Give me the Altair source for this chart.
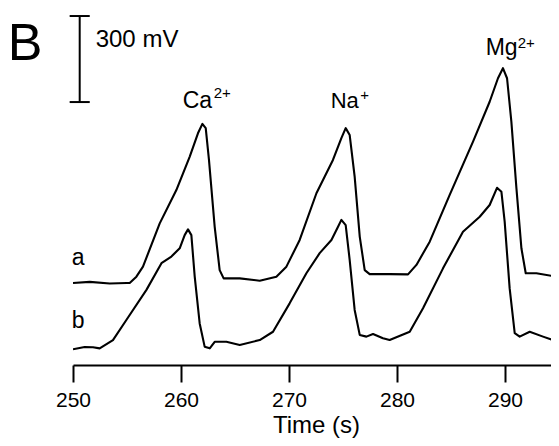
import altair as alt
import pandas as pd

# Trace a (upper) — time (s), signal (mV, arbitrary offset)
time_a = [250.00, 251.55, 253.40, 254.97, 255.25, 255.87, 256.48, 258.03, 259.57, 260.81, 261.57, 261.98,
          262.29, 262.59, 263.12, 263.58, 263.95, 265.44, 267.29, 268.83, 269.76, 270.99, 272.54, 274.07,
          274.85, 275.25, 275.62, 276.08, 276.55, 277.01, 277.47, 279.32, 281.02, 281.80, 283.03, 284.88,
          287.04, 288.58, 289.35, 289.81, 290.19, 290.59, 291.06, 291.52, 291.92, 292.91, 294.76]
mv_a = [286, 290, 284, 286, 286, 308, 343, 494, 610, 727, 808, 841,
        826, 715, 482, 331, 302, 302, 294, 308, 343, 436, 599, 715,
        791, 826, 802, 657, 448, 331, 317, 317, 316, 349, 430, 593,
        779, 918, 1000, 1035, 1000, 849, 616, 407, 320, 320, 308]

# Trace b (lower)
time_b = [250.00, 251.08, 251.85, 252.47, 253.70, 254.94, 256.80, 258.19, 259.11, 259.88, 260.34, 260.65,
          260.96, 261.27, 261.73, 262.19, 262.66, 263.12, 264.20, 265.44, 267.29, 268.52, 270.06, 271.61,
          272.84, 273.93, 274.54, 274.85, 275.25, 275.62, 276.08, 276.55, 277.17, 277.78, 278.70, 279.32,
          281.18, 282.41, 284.26, 286.11, 287.66, 288.58, 289.26, 289.67, 289.97, 290.43, 290.90, 291.36,
          292.29, 293.52, 294.91]
mv_b = [55, 63, 62, 58, 87, 157, 262, 355, 378, 407, 453, 473,
        453, 308, 145, 64, 58, 81, 81, 70, 87, 116, 215, 320,
        390, 436, 482, 506, 488, 366, 192, 105, 99, 108, 93, 87,
        116, 198, 337, 465, 517, 558, 618, 604, 500, 268, 111, 99,
        116, 99, 81]

# Axis
x_ticks = [250, 260, 270, 280, 290]

# Annotations
ann_text = ["B", "300 mV", "Ca", "2+", "Na", "+", "Mg", "2+", "a", "b"]
ann_t = [243.95, 252.1, 260.16, 263.03, 273.86, 276.6, 288.21, 291.18, 249.88, 249.88]
ann_mv = [1064, 1109, 895, 931, 896, 924, 1081, 1107, 349, 129]
ann_size = [52, 24, 23, 15, 22, 15, 23, 15, 23, 23]

# Scale bar (300 mV)
bar_t = 250.62
bar_lo = 917
bar_hi = 1217
cap_half = 0.93

FONT = "Liberation Sans"

df = pd.DataFrame({
    "t": time_a + time_b,
    "mv": mv_a + mv_b,
    "trace": ["a"] * len(time_a) + ["b"] * len(time_b),
})
ann = pd.DataFrame({"text": ann_text, "t": ann_t, "mv": ann_mv, "size": ann_size})
vbar = pd.DataFrame({"t": [bar_t], "lo": [bar_lo], "hi": [bar_hi]})
caps = pd.DataFrame({"t1": [bar_t - cap_half] * 2, "t2": [bar_t + cap_half] * 2, "mv": [bar_lo, bar_hi]})

xscale = alt.Scale(domain=[250, 294.26], nice=False, zero=False)
yscale = alt.Scale(domain=[0, 1245], nice=False, zero=False)

x_axis = alt.Axis(values=x_ticks, format="d", grid=False, domainColor="black", domainWidth=2,
                  tickColor="black", tickWidth=2, tickSize=17, labelFontSize=21,
                  labelColor="black", labelFont=FONT, labelPadding=7, labelFlush=False,
                  titleFontSize=24, titleFont=FONT, titleColor="black",
                  titleFontWeight="normal", titlePadding=3, titleX=243)

lines = alt.Chart(df).mark_line(color="black", strokeWidth=2.1, clip=True,
                                strokeJoin="round").encode(
    x=alt.X("t:Q", scale=xscale, title="Time (s)", axis=x_axis),
    y=alt.Y("mv:Q", scale=yscale, axis=None),
    detail="trace:N",
)

texts = alt.Chart(ann).mark_text(align="left", baseline="alphabetic", font=FONT, color="black").encode(
    x=alt.X("t:Q", scale=xscale, title="Time (s)"),
    y=alt.Y("mv:Q", scale=yscale, axis=None),
    text="text:N",
    size=alt.Size("size:Q", scale=None, legend=None),
)

bar = alt.Chart(vbar).mark_rule(color="black", strokeWidth=2).encode(
    x=alt.X("t:Q", scale=xscale, title="Time (s)"),
    y=alt.Y("lo:Q", scale=yscale, axis=None), y2="hi:Q")
capm = alt.Chart(caps).mark_rule(color="black", strokeWidth=2).encode(
    x=alt.X("t1:Q", scale=xscale, title="Time (s)"), x2="t2:Q",
    y=alt.Y("mv:Q", scale=yscale, axis=None))

chart = alt.layer(lines, bar, capm, texts).properties(
    width=478, height=357,
    background="white",
    autosize=alt.AutoSizeParams(type="none"),
    padding={"left": 65, "top": 0, "right": 0, "bottom": 80},
).configure_view(stroke=None)

chart.save("out.html", embed_options={"renderer": "svg", "actions": False})
